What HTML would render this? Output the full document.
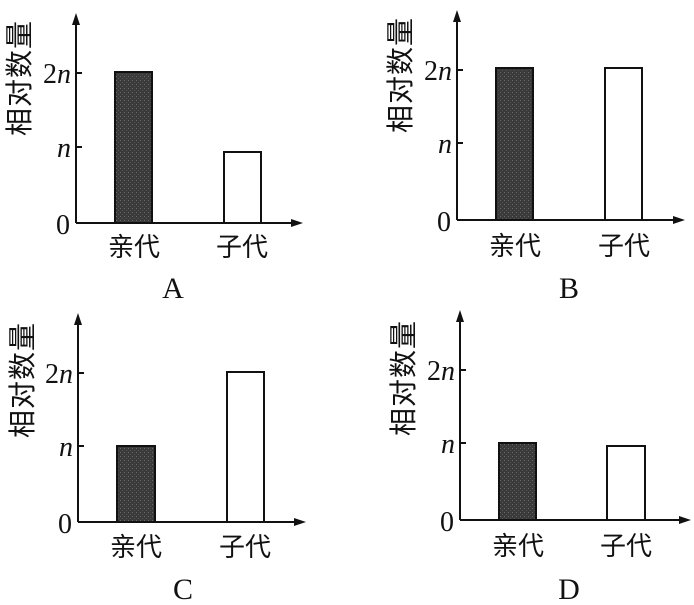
<!DOCTYPE html>
<html><head><meta charset="utf-8"><style>
body{margin:0;background:#fff}
svg{display:block}
.t{font-family:"Liberation Serif",serif;font-size:28px;fill:#111}
.c{font-family:"Liberation Sans","Noto Sans CJK SC",sans-serif;font-size:26px;fill:#111}
.y{font-family:"Liberation Sans","Noto Sans CJK SC",sans-serif;font-size:28px;fill:#111}
</style></head><body>
<svg width="694" height="605" viewBox="0 0 694 605" xmlns="http://www.w3.org/2000/svg">
<defs>
<pattern id="g" width="4" height="4" patternUnits="userSpaceOnUse">
<rect width="4" height="4" fill="#3a3a3a"/><rect x="0" y="0" width="1" height="1" fill="#6a6a6a"/><rect x="2" y="2" width="1" height="1" fill="#555"/>
</pattern>
</defs>
<g stroke="#111" stroke-width="2" fill="none">
<line x1="76" y1="20" x2="76" y2="223"/><line x1="76" y1="223" x2="296" y2="223"/>
<line x1="76" y1="73" x2="82" y2="73"/><line x1="76" y1="147" x2="82" y2="147"/>
<line x1="457" y1="17" x2="457" y2="220"/><line x1="457" y1="220" x2="678" y2="220"/>
<line x1="457" y1="70" x2="463" y2="70"/><line x1="457" y1="143" x2="463" y2="143"/>
<line x1="78" y1="320" x2="78" y2="522"/><line x1="78" y1="522" x2="299" y2="522"/>
<line x1="78" y1="373" x2="84" y2="373"/><line x1="78" y1="446" x2="84" y2="446"/>
<line x1="460" y1="317" x2="460" y2="520"/><line x1="460" y1="520" x2="684" y2="520"/>
<line x1="460" y1="370" x2="466" y2="370"/><line x1="460" y1="443" x2="466" y2="443"/>
</g>
<g fill="#111">
<polygon points="76,13 72,25 80,25"/><polygon points="303,223 291,219 291,227"/>
<polygon points="457,10 453,22 461,22"/><polygon points="685,220 673,216 673,224"/>
<polygon points="78,313 74,325 82,325"/><polygon points="306,522 294,518 294,526"/>
<polygon points="460,310 456,322 464,322"/><polygon points="691,520 679,516 679,524"/>
</g>
<g stroke="#111" stroke-width="2">
<rect x="115" y="72" width="37" height="151" fill="url(#g)"/>
<rect x="224" y="152" width="37" height="71" fill="#fff"/>
<rect x="496" y="68" width="37" height="152" fill="url(#g)"/>
<rect x="605" y="68" width="37" height="152" fill="#fff"/>
<rect x="117" y="446" width="38" height="76" fill="url(#g)"/>
<rect x="227" y="372" width="37" height="150" fill="#fff"/>
<rect x="499" y="443" width="37" height="77" fill="url(#g)"/>
<rect x="607" y="446" width="38" height="74" fill="#fff"/>
</g>
<g class="t" text-anchor="end">
<text x="71" y="83">2<tspan font-style="italic">n</tspan></text><text x="71" y="157" font-style="italic">n</text><text x="70" y="234">0</text>
<text x="452" y="80">2<tspan font-style="italic">n</tspan></text><text x="452" y="153" font-style="italic">n</text><text x="451" y="231">0</text>
<text x="73" y="383">2<tspan font-style="italic">n</tspan></text><text x="73" y="456" font-style="italic">n</text><text x="72" y="533">0</text>
<text x="455" y="380">2<tspan font-style="italic">n</tspan></text><text x="455" y="453" font-style="italic">n</text><text x="454" y="531">0</text>
</g>
<g class="t" text-anchor="middle" style="font-size:30px">
<text x="173" y="298">A</text><text x="569" y="298">B</text><text x="183" y="599">C</text><text x="569" y="599">D</text>
</g>
<g class="c" text-anchor="middle">
<text x="134" y="256">亲代</text><text x="242" y="256">子代</text>
<text x="515" y="255">亲代</text><text x="624" y="255">子代</text>
<text x="136" y="556">亲代</text><text x="245" y="556">子代</text>
<text x="518" y="555">亲代</text><text x="626" y="555">子代</text>
</g>
<g class="y" text-anchor="middle">
<text transform="translate(29,78) rotate(-90)" letter-spacing="1">相对数量</text>
<text transform="translate(410,75) rotate(-90)" letter-spacing="1">相对数量</text>
<text transform="translate(32,380) rotate(-90)" letter-spacing="1">相对数量</text>
<text transform="translate(413,378) rotate(-90)" letter-spacing="1">相对数量</text>
</g>
</svg>
</body></html>
